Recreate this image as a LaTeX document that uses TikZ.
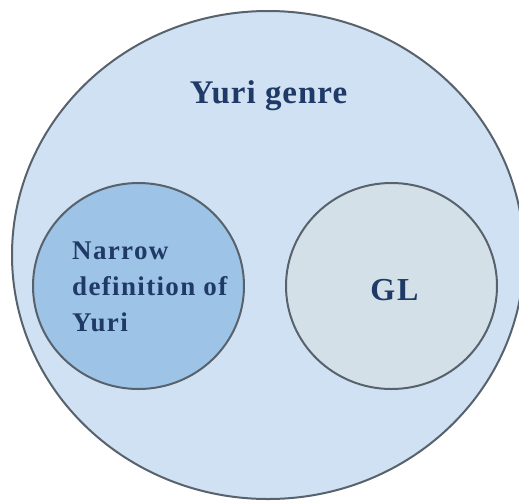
\documentclass[tikz,border=0pt]{standalone}
\usepackage{fontspec}
\setmainfont{Liberation Serif}
\usetikzlibrary{shapes.geometric}
\definecolor{outerfill}{HTML}{CFE1F2}
\definecolor{narrowfill}{HTML}{9DC3E6}
\definecolor{glfill}{HTML}{D4E0E8}
\definecolor{edgegray}{HTML}{58626D}
\definecolor{labelblue}{HTML}{1F3A66}
\tikzset{
  setshape/.style={ellipse, draw=edgegray, line width=2pt, inner sep=0pt},
  setlabel/.style={text=labelblue, inner sep=0pt, font=\bfseries},
  narrowline/.style={setlabel, anchor=base west,
    font=\bfseries\fontsize{27}{36}\selectfont\addfontfeature{LetterSpace=5}},
}
\begin{document}
\begin{tikzpicture}[x=1pt, y=-1pt]
\useasboundingbox[fill=white] (0,0) rectangle (519,501);
% outer set and the two subsets
\node[setshape, fill=outerfill, minimum width=512pt, minimum height=488pt] (genre) at (268,255) {};
\node[setshape, fill=narrowfill, minimum width=211pt, minimum height=206pt] (narrow) at (138.5,286) {};
\node[setshape, fill=glfill, minimum width=211pt, minimum height=206pt] (gl) at (391.5,286) {};
% labels
\node[setlabel, anchor=base, font=\bfseries\fontsize{33}{36}\selectfont\addfontfeature{LetterSpace=3}] (genrelabel) at (268.5,103) {Yuri genre};
\node[narrowline] (narrowa) at (72,259) {Narrow};
\node[narrowline] (narrowb) at (72,295) {definition of};
\node[narrowline] (narrowc) at (72,331) {Yuri};
\node[setlabel, anchor=base, font=\bfseries\fontsize{32}{36}\selectfont\addfontfeature{LetterSpace=6}] (gllabel) at (394.5,300) {GL};
\end{tikzpicture}
\end{document}
